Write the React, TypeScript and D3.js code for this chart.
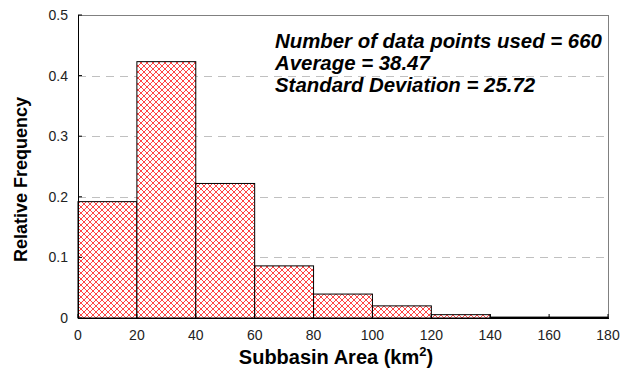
import React from "react";
import * as d3 from "d3";

const binStarts = [0, 20, 40, 60, 80, 100, 120, 140, 160];
const binWidth = 20;
const frequencies = [0.192, 0.423, 0.222, 0.086, 0.0395, 0.02, 0.0055, 0.0015, 0.0015];
const xTicks = [0, 20, 40, 60, 80, 100, 120, 140, 160, 180];
const yTicks = [0, 0.1, 0.2, 0.3, 0.4, 0.5];
const yTickLabels = ["0", "0.1", "0.2", "0.3", "0.4", "0.5"];
const statLines = [
  "Number of data points used = 660",
  "Average = 38.47",
  "Standard Deviation = 25.72",
];

const W = 626;
const H = 374;
const left = 78;
const right = 608;
const top = 15;
const bottom = 318;

export default function App() {
  const x = d3.scaleLinear().domain([0, 180]).range([left, right]);
  const y = d3.scaleLinear().domain([0, 0.5]).range([bottom, top]);
  const font = "Arial, 'Liberation Sans', sans-serif";
  return (
    <svg
      width={W}
      height={H}
      style={{ position: "absolute", left: 0, top: 0, background: "#fff" }}
    >
      <defs>
        <pattern id="hatch" width={6} height={6} patternUnits="userSpaceOnUse">
          <rect width={6} height={6} fill="#fff" />
          <path
            d="M0,0 L6,6 M6,0 L0,6 M-1,5 L1,7 M5,-1 L7,1 M-1,1 L1,-1 M5,7 L7,5"
            stroke="#ff3030"
            strokeWidth={0.9}
          />
        </pattern>
      </defs>
      {yTicks.slice(1, 5).map((t) => (
        <line
          key={t}
          x1={left}
          x2={right}
          y1={Math.round(y(t)) + 0.5}
          y2={Math.round(y(t)) + 0.5}
          stroke="#c0c0c0"
          strokeDasharray="8,6"
        />
      ))}
      <line x1={left} x2={right} y1={top + 0.5} y2={top + 0.5} stroke="#808080" />
      <line x1={right + 0.5} x2={right + 0.5} y1={top} y2={bottom} stroke="#808080" />
      {binStarts.map((b, i) => (
        <rect
          key={b}
          x={x(b)}
          y={y(frequencies[i])}
          width={x(b + binWidth) - x(b)}
          height={y(0) - y(frequencies[i])}
          fill="url(#hatch)"
          stroke="#000"
          strokeWidth={1}
        />
      ))}
      <line x1={left + 0.5} x2={left + 0.5} y1={top} y2={bottom + 0.5} stroke="#000" />
      <line x1={left} x2={right + 1} y1={bottom + 0.5} y2={bottom + 0.5} stroke="#000" />
      {xTicks.map((t) => (
        <g key={t}>
          <line x1={x(t)} x2={x(t)} y1={bottom} y2={bottom - 4} stroke="#000" />
          <text
            x={x(t)}
            y={bottom + 22}
            textAnchor="middle"
            fontFamily={font}
            fontSize={14}
            fill="#222"
          >
            {t}
          </text>
        </g>
      ))}
      {yTicks.map((t, i) => (
        <g key={t}>
          <line x1={left} x2={left + 4} y1={y(t)} y2={y(t)} stroke="#000" />
          <text
            x={left - 10}
            y={y(t) + 5}
            textAnchor="end"
            fontFamily={font}
            fontSize={14}
            fill="#222"
          >
            {yTickLabels[i]}
          </text>
        </g>
      ))}
      <text
        x={336}
        y={364}
        textAnchor="middle"
        fontFamily={font}
        fontSize={20}
        fontWeight="bold"
        fill="#000"
      >
        Subbasin Area (km
        <tspan dy={-8} fontSize={13}>2</tspan>
        <tspan dy={8}>)</tspan>
      </text>
      <text
        transform={`translate(27,${(top + bottom) / 2 + 13}) rotate(-90)`}
        textAnchor="middle"
        fontFamily={font}
        fontSize={18}
        fontWeight="bold"
        fill="#000"
      >
        Relative Frequency
      </text>
      {statLines.map((s, i) => (
        <text
          key={s}
          x={275}
          y={48 + i * 22}
          fontFamily={font}
          fontSize={20.4}
          fontWeight="bold"
          fontStyle="italic"
          fill="#000"
        >
          {s}
        </text>
      ))}
    </svg>
  );
}
